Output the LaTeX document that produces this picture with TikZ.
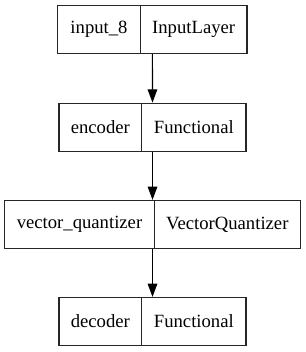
\documentclass[tikz,border=0pt]{standalone}
\usepackage{fontspec}
\setmainfont{Liberation Serif}
\usetikzlibrary{arrows.meta,calc}
\begin{document}
\begin{tikzpicture}[x=1pt,y=-1pt,
  cell/.style={draw=black!85, line width=1.2pt, minimum height=48pt, inner sep=0pt,
    font=\fontsize{18.67}{22}\selectfont, anchor=center},
  flow/.style={draw=black, line width=1.2pt, -{Triangle[length=13.3pt,width=9.6pt]}}]
\useasboundingbox (0,0) rectangle (305,352);
\node[cell, minimum width=82.6pt] (l1) at (99,29.5) {input\_8};
\node[cell, minimum width=106.7pt] (r1) at (193.65,29.5) {InputLayer};
\node[cell, minimum width=82.7pt] (l2) at (100.35,127.2) {encoder};
\node[cell, minimum width=104.3pt] (r2) at (193.85,127.2) {Functional};
\node[cell, minimum width=149.6pt] (l3) at (79.5,224.5) {vector\_quantizer};
\node[cell, minimum width=146pt] (r3) at (227.3,224.5) {VectorQuantizer};
\node[cell, minimum width=82.7pt] (l4) at (100.35,321.5) {decoder};
\node[cell, minimum width=104.3pt] (r4) at (193.85,321.5) {Functional};
\draw[flow] ($(l1.south west)!0.5!(r1.south east)$) -- ($(l2.north west)!0.5!(r2.north east)$);
\draw[flow] ($(l2.south west)!0.5!(r2.south east)$) -- ($(l3.north west)!0.5!(r3.north east)$);
\draw[flow] ($(l3.south west)!0.5!(r3.south east)$) -- ($(l4.north west)!0.5!(r4.north east)$);
\end{tikzpicture}
\end{document}
